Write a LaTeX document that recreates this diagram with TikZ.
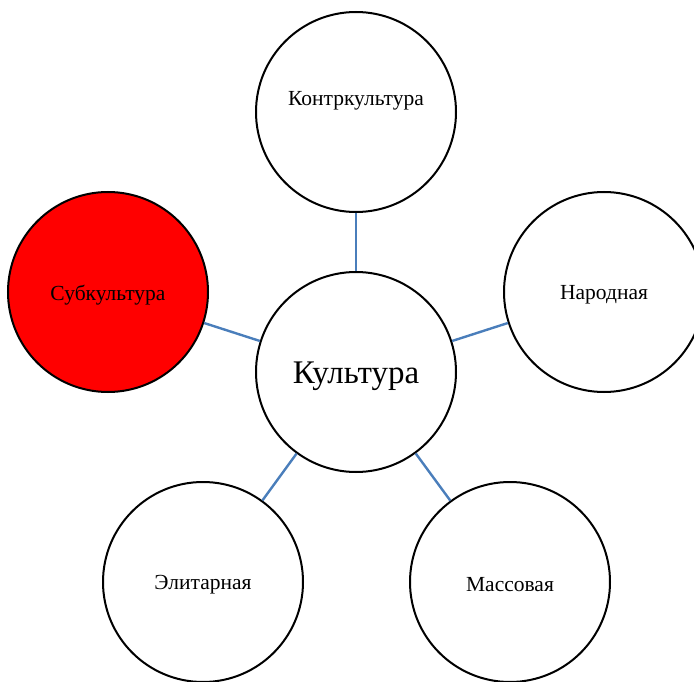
\documentclass[tikz,border=0pt]{standalone}
\usepackage{fontspec}
\setmainfont{Liberation Serif}
\begin{document}
\begin{tikzpicture}[x=1pt,y=-1pt,
  circ/.style={circle,draw=black,line width=2pt,minimum size=200pt,inner sep=0pt,fill=white},
  lbl/.style={font=\fontsize{21.5}{24}\selectfont,inner sep=0pt},
  link/.style={draw={rgb,255:red,74;green,126;blue,187},line width=2.4pt}]
\useasboundingbox (0,0) rectangle (694,682);
\node[circ] (c) at (356,372) {};
\node[circ] (t) at (356,112) {};
\node[circ] (r) at (604,292) {};
\node[circ,fill=red] (l) at (108,292) {};
\node[circ] (bl) at (203,582) {};
\node[circ] (br) at (510,582) {};
\node[lbl,font=\fontsize{33}{38}\selectfont] (cl) at (356,376) {Культура};
\node[lbl] (tl) at (356,101) {Контркультура};
\node[lbl] (rl) at (604,295) {Народная};
\node[lbl] (ll) at (108,295) {Субкультура};
\node[lbl] (bll) at (203,585) {Элитарная};
\node[lbl] (brl) at (510,585) {Массовая};
\foreach \n in {t,r,l,bl,br} \draw[link] (c) -- (\n);
\end{tikzpicture}
\end{document}
